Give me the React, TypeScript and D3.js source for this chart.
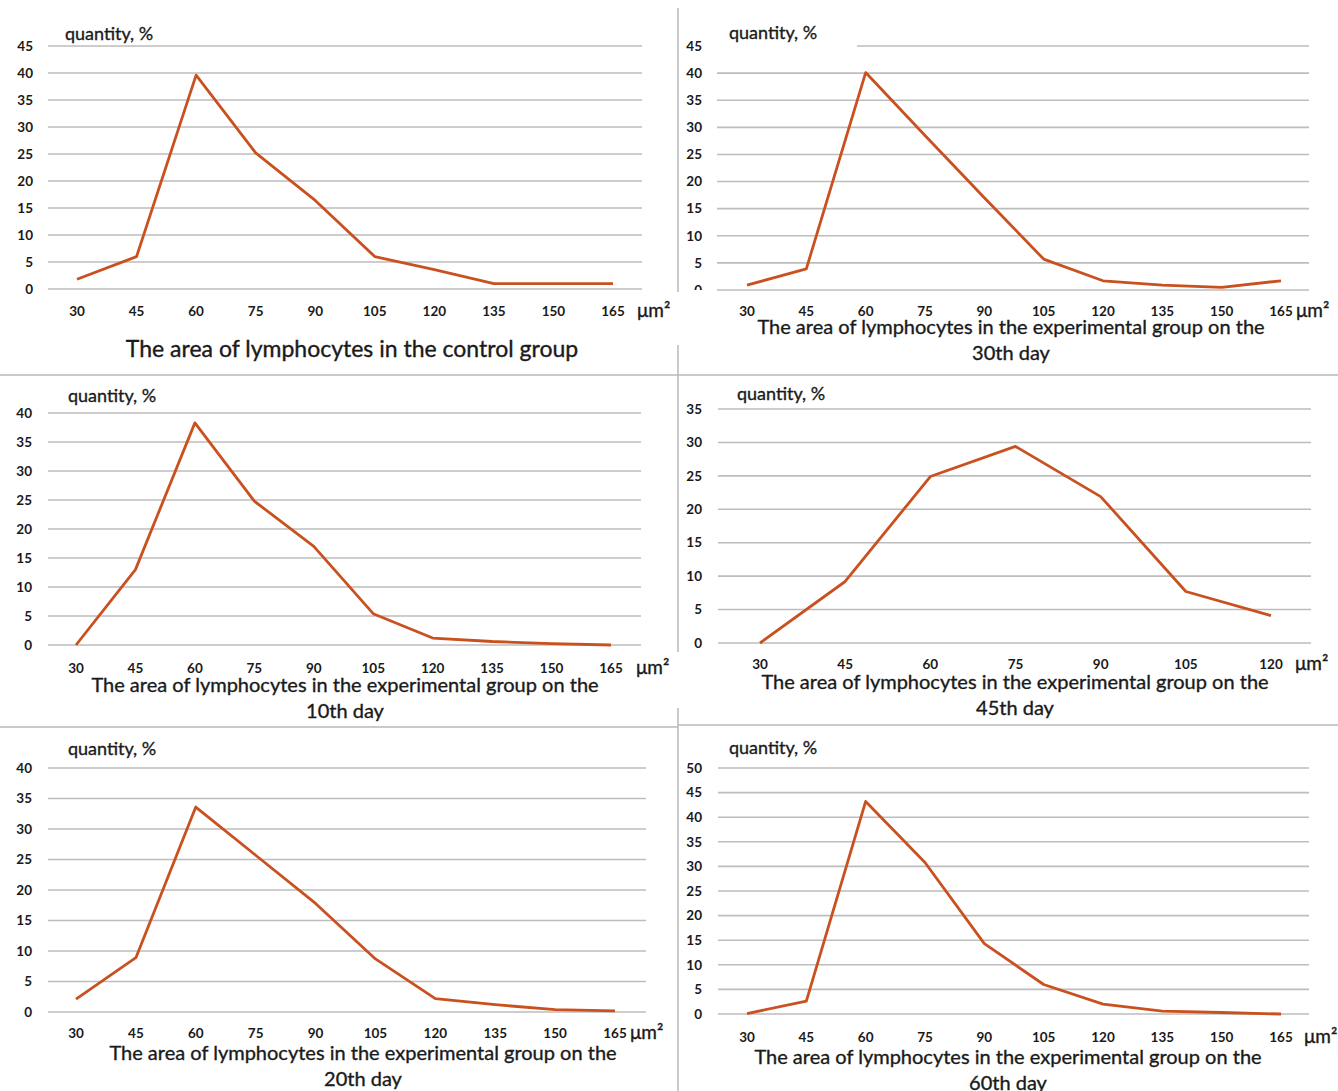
import React from 'react';
import * as d3 from 'd3';

// x categories, µm²
const areaCats = [30, 45, 60, 75, 90, 105, 120, 135, 150, 165];
const areaCats45 = [30, 45, 60, 75, 90, 105, 120];

// quantity, %
const controlValues = [1.8, 6, 39.6, 25.2, 16.4, 6, 3.6, 1, 1, 1];
const day30Values = [0.9, 3.9, 40.1, 28.5, 17, 5.7, 1.7, 0.9, 0.5, 1.7];
const day10Values = [0, 13, 38.3, 24.8, 17, 5.4, 1.2, 0.6, 0.25, 0];
const day45Values = [0, 9.2, 24.9, 29.4, 21.9, 7.7, 4.1];
const day20Values = [2.1, 8.9, 33.6, 25.7, 17.8, 8.7, 2.2, 1.2, 0.4, 0.2];
const day60Values = [0.1, 2.6, 43.2, 30.8, 14.3, 6, 2, 0.6, 0.3, 0];

const yMaxes = [45, 45, 40, 35, 40, 50];

const titles = [
  ['The area of lymphocytes in the control group'],
  ['The area of lymphocytes in the experimental group on the', '30th day'],
  ['The area of lymphocytes in the experimental group on the', '10th day'],
  ['The area of lymphocytes in the experimental group on the', '45th day'],
  ['The area of lymphocytes in the experimental group on the', '20th day'],
  ['The area of lymphocytes in the experimental group on the', '60th day'],
];

const FONT = 'Lato, "Open Sans", sans-serif';
const LINE_COLOR = '#c9511f';
const GRID_COLOR = '#bdbdbd';
const TEXT_COLOR = '#1a1a1a';

const panels = [
  { cats: areaCats, values: controlValues, yMax: yMaxes[0], title: titles[0],
    gx0: 48, gx1: 642, yTop: 46, yBot: 289, xFirst: 77, xLast: 613, tickRight: 33,
    xLabelY: 311, unitX: 637, qx: 65, qy: 34, titleX: 352, titleY: 349, titleSize: 23, topGridStart: null, clipZero: false },
  { cats: areaCats, values: day30Values, yMax: yMaxes[1], title: titles[1],
    gx0: 717, gx1: 1309, yTop: 46, yBot: 290, xFirst: 747, xLast: 1281, tickRight: 702,
    xLabelY: 311, unitX: 1296, qx: 729, qy: 33, titleX: 1011, titleY: 327, titleSize: 20, topGridStart: 857, clipZero: true },
  { cats: areaCats, values: day10Values, yMax: yMaxes[2], title: titles[2],
    gx0: 48, gx1: 641, yTop: 413, yBot: 645, xFirst: 76, xLast: 611, tickRight: 32,
    xLabelY: 668, unitX: 636, qx: 68, qy: 396, titleX: 345, titleY: 685, titleSize: 20, topGridStart: null, clipZero: false },
  { cats: areaCats45, values: day45Values, yMax: yMaxes[3], title: titles[3],
    gx0: 718, gx1: 1311, yTop: 409, yBot: 643, xFirst: 760, xLast: 1271, tickRight: 702,
    xLabelY: 664, unitX: 1295, qx: 737, qy: 394, titleX: 1015, titleY: 682, titleSize: 20, topGridStart: null, clipZero: false },
  { cats: areaCats, values: day20Values, yMax: yMaxes[4], title: titles[4],
    gx0: 48, gx1: 646, yTop: 768, yBot: 1012, xFirst: 76, xLast: 615, tickRight: 32,
    xLabelY: 1033, unitX: 630, qx: 68, qy: 749, titleX: 363, titleY: 1053, titleSize: 20, topGridStart: null, clipZero: false },
  { cats: areaCats, values: day60Values, yMax: yMaxes[5], title: titles[5],
    gx0: 718, gx1: 1309, yTop: 768, yBot: 1014, xFirst: 747, xLast: 1281, tickRight: 702,
    xLabelY: 1037, unitX: 1304, qx: 729, qy: 748, titleX: 1008, titleY: 1057, titleSize: 20, topGridStart: null, clipZero: false },
];

// slight outline to mimic the heavier look of the scanned text
const heavy = { stroke: TEXT_COLOR, strokeWidth: 0.35 };

const Panel = ({ p, idx }) => {
  const x = d3.scalePoint().domain(p.cats.map(String)).range([p.xFirst, p.xLast]);
  const y = d3.scaleLinear().domain([0, p.yMax]).range([p.yBot, p.yTop]);
  const ticks = d3.range(0, p.yMax + 1, 5);
  const line = d3
    .line()
    .x((d) => x(String(d[0])))
    .y((d) => y(d[1]));
  const pts = p.cats.map((c, i) => [c, p.values[i]]);

  return (
    <g>
      {p.clipZero && (
        <clipPath id={`zclip${idx}`}>
          <rect x={p.tickRight - 20} y={y(0) - 10} width={30} height={10} />
        </clipPath>
      )}
      {ticks.map((t) => (
        <line
          key={t}
          x1={t === p.yMax && p.topGridStart ? p.topGridStart : p.gx0}
          x2={p.gx1}
          y1={y(t)}
          y2={y(t)}
          stroke={GRID_COLOR}
          strokeWidth={1.6}
        />
      ))}
      {ticks.map((t) => (
        <text
          key={'l' + t}
          x={p.tickRight}
          y={y(t)}
          dy="0.35em"
          textAnchor="end"
          fontSize={13.5}
          fontWeight="bold"
          fill={TEXT_COLOR}
          clipPath={t === 0 && p.clipZero ? `url(#zclip${idx})` : undefined}
        >
          {t}
        </text>
      ))}
      {p.cats.map((c) => (
        <text
          key={'x' + c}
          x={x(String(c))}
          y={p.xLabelY}
          dy="0.35em"
          textAnchor="middle"
          fontSize={13.5}
          fontWeight="bold"
          fill={TEXT_COLOR}
        >
          {c}
        </text>
      ))}
      <text x={p.unitX} y={p.xLabelY} dy="0.3em" fontSize={19} fill={TEXT_COLOR} {...heavy}>
        μm²
      </text>
      <text x={p.qx} y={p.qy} dy="0.35em" fontSize={18} fill={TEXT_COLOR} {...heavy}>
        quantity, %
      </text>
      <path d={line(pts)} fill="none" stroke={LINE_COLOR} strokeWidth={2.8} strokeLinejoin="round" />
      {p.title.map((t, i) => (
        <text
          key={'t' + i}
          x={p.titleX}
          y={p.titleY + i * 26}
          dy="0.35em"
          textAnchor="middle"
          fontSize={p.titleSize}
          fill={TEXT_COLOR}
          {...heavy}
        >
          {t}
        </text>
      ))}
    </g>
  );
};

const App = () => {
  return (
    <div style={{ position: 'absolute', left: 0, top: 0 }}>
      <svg width={1338} height={1091} style={{ display: 'block', background: '#fff', fontFamily: FONT }}>
        {/* separators */}
        <line x1={0} x2={1338} y1={375} y2={375} stroke="#b8b8b8" strokeWidth={1.5} />
        <line x1={0} x2={678} y1={727} y2={727} stroke="#b8b8b8" strokeWidth={1.5} />
        <line x1={678} x2={1338} y1={725} y2={725} stroke="#b8b8b8" strokeWidth={1.5} />
        <line x1={678} x2={678} y1={8} y2={292} stroke="#b8b8b8" strokeWidth={1.5} />
        <line x1={678} x2={678} y1={345} y2={652} stroke="#b8b8b8" strokeWidth={1.5} />
        <line x1={678} x2={678} y1={708} y2={1091} stroke="#b8b8b8" strokeWidth={1.5} />
        {panels.map((p, i) => (
          <Panel key={i} p={p} idx={i} />
        ))}
      </svg>
    </div>
  );
};

export default App;
